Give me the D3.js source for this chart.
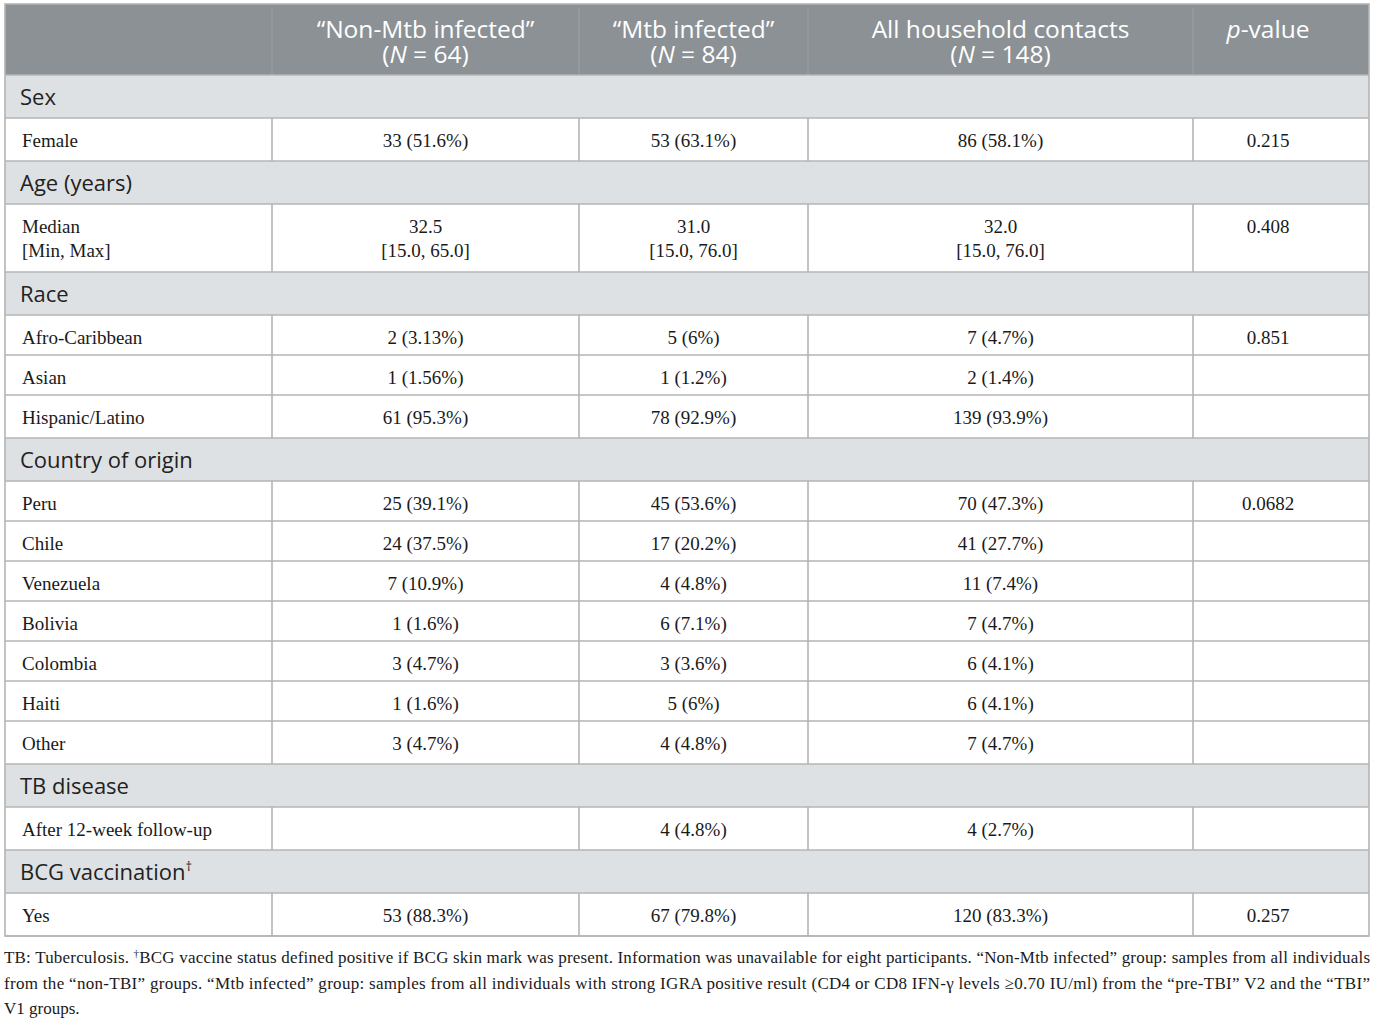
<!DOCTYPE html>
<html>
<head>
<meta charset="utf-8">
<script src="https://cdn.jsdelivr.net/npm/d3@7"></script>
<style>
  body { margin: 0; background: #fff; }
  svg { display: block; }
</style>
</head>
<body>
<div id="table"></div>
<script>
// ---- table content ----
const headerTitles = ["\u201cNon-Mtb infected\u201d", "\u201cMtb infected\u201d", "All household contacts"];
const headerN = [64, 84, 148];

const sectionNames = ["Sex", "Age (years)", "Race", "Country of origin", "TB disease", "BCG vaccination"];

// which section every data row belongs to
const rowSection = [0, 1, 2, 2, 2, 3, 3, 3, 3, 3, 3, 3, 4, 5];
const rowLabels = ["Female", "Median\n[Min, Max]", "Afro-Caribbean", "Asian", "Hispanic/Latino",
  "Peru", "Chile", "Venezuela", "Bolivia", "Colombia", "Haiti", "Other",
  "After 12-week follow-up", "Yes"];

const nonMtbInfected = ["33 (51.6%)", "32.5\n[15.0, 65.0]", "2 (3.13%)", "1 (1.56%)", "61 (95.3%)",
  "25 (39.1%)", "24 (37.5%)", "7 (10.9%)", "1 (1.6%)", "3 (4.7%)", "1 (1.6%)", "3 (4.7%)",
  "", "53 (88.3%)"];
const mtbInfected = ["53 (63.1%)", "31.0\n[15.0, 76.0]", "5 (6%)", "1 (1.2%)", "78 (92.9%)",
  "45 (53.6%)", "17 (20.2%)", "4 (4.8%)", "6 (7.1%)", "3 (3.6%)", "5 (6%)", "4 (4.8%)",
  "4 (4.8%)", "67 (79.8%)"];
const allContacts = ["86 (58.1%)", "32.0\n[15.0, 76.0]", "7 (4.7%)", "2 (1.4%)", "139 (93.9%)",
  "70 (47.3%)", "41 (27.7%)", "11 (7.4%)", "7 (4.7%)", "6 (4.1%)", "6 (4.1%)", "7 (4.7%)",
  "4 (2.7%)", "120 (83.3%)"];
const pValues = ["0.215", "0.408", "0.851", "", "", "0.0682", "", "", "", "", "", "", "", "0.257"];

const footnoteLines = [
  "TB: Tuberculosis. \u2020BCG vaccine status defined positive if BCG skin mark was present. Information was unavailable for eight participants. \u201cNon-Mtb infected\u201d group: samples from all individuals",
  "from the \u201cnon-TBI\u201d groups. \u201cMtb infected\u201d group: samples from all individuals with strong IGRA positive result (CD4 or CD8 IFN-\u03b3 levels \u22650.70 IU/ml) from the \u201cpre-TBI\u201d V2 and the \u201cTBI\u201d",
  "V1 groups."
];

// ---- layout ----
const width = 1375, height = 1023;
const colEdges = [5, 272, 579, 808, 1193, 1369];
// text centre of each column (the p-value column sits a bit left of its middle)
const colTextX = [22, 425.5, 693.5, 1000.5, 1268];
const tableTop = 4;
const headerH = 71, sectionH = 43, rowH = 40, lineH = 24, lastExtra = 3;

const headerBg = "#8b9195", sectionBg = "#dee1e3", borderCol = "#b4b4b4";
const sansFont = "'Open Sans', 'Noto Sans', sans-serif";
const serifFont = "'Liberation Serif', 'DejaVu Serif', serif";

const svg = d3.select("#table").append("svg")
  .attr("width", width).attr("height", height);

// build the list of rows (section bands + data rows) with their y extents
const bands = [];
let y = tableTop + headerH;
sectionNames.forEach((name, s) => {
  bands.push({ type: "section", label: name, y0: y, y1: y + sectionH });
  y += sectionH;
  const idx = d3.range(rowSection.length).filter(i => rowSection[i] === s);
  idx.forEach((i, k) => {
    const lines = Math.max(...[rowLabels[i], nonMtbInfected[i], mtbInfected[i], allContacts[i], pValues[i]]
      .map(t => t.split("\n").length));
    let h = rowH + (lines - 1) * (lineH + 1);
    if (k === idx.length - 1) h += lastExtra;
    bands.push({ type: "row", i, y0: y, y1: y + h });
    y += h;
  });
});
const tableBottom = y;

// header background
svg.append("rect")
  .attr("x", colEdges[0]).attr("y", tableTop)
  .attr("width", colEdges[5] - colEdges[0]).attr("height", headerH)
  .attr("fill", headerBg);

// faint header dividers
svg.append("g").selectAll("line")
  .data(colEdges.slice(1, 5))
  .join("line")
  .attr("x1", d => d).attr("x2", d => d)
  .attr("y1", tableTop + 4).attr("y2", tableTop + headerH)
  .attr("stroke", "#9ca1a4").attr("stroke-width", 1);

// header text
const hdr = svg.append("g")
  .attr("font-family", sansFont).attr("font-size", 24.5)
  .attr("fill", "#ffffff").attr("text-anchor", "middle");

headerTitles.forEach((t, j) => {
  const txt = hdr.append("text").attr("x", colTextX[j + 1]);
  txt.append("tspan").attr("x", colTextX[j + 1]).attr("y", tableTop + 34).text(t);
  const n = txt.append("tspan").attr("x", colTextX[j + 1]).attr("y", tableTop + 59);
  n.text("(");
  txt.append("tspan").attr("font-style", "italic").text("N");
  txt.append("tspan").text(" = " + headerN[j] + ")");
});
const pv = hdr.append("text").attr("x", colTextX[4]).attr("y", tableTop + 34);
pv.append("tspan").attr("font-style", "italic").text("p");
pv.append("tspan").text("-value");

// section bands
const sec = svg.append("g").selectAll("g")
  .data(bands.filter(b => b.type === "section"))
  .join("g");
sec.append("rect")
  .attr("x", colEdges[0]).attr("y", d => d.y0)
  .attr("width", colEdges[5] - colEdges[0]).attr("height", d => d.y1 - d.y0)
  .attr("fill", sectionBg);
const secText = sec.append("text")
  .attr("x", colEdges[0] + 15).attr("y", d => d.y0 + 29.5)
  .attr("font-family", sansFont).attr("font-size", 22).attr("fill", "#222");
secText.append("tspan").text(d => d.label);
secText.filter(d => d.label === "BCG vaccination")
  .append("tspan").attr("font-size", 13).attr("dy", -9).text("\u2020");

// data rows
const columns = [rowLabels, nonMtbInfected, mtbInfected, allContacts, pValues];
const dataRows = bands.filter(b => b.type === "row");
const rowG = svg.append("g")
  .attr("font-family", serifFont).attr("font-size", 19).attr("fill", "#1a1a1a");

dataRows.forEach(b => {
  columns.forEach((col, c) => {
    const lines = col[b.i].split("\n").filter(s => s.length);
    if (!lines.length) return;
    const t = rowG.append("text")
      .attr("x", colTextX[c])
      .attr("text-anchor", c === 0 ? "start" : "middle");
    t.selectAll("tspan").data(lines).join("tspan")
      .attr("x", colTextX[c])
      .attr("y", (d, k) => b.y0 + 29 + k * lineH)
      .text(d => d);
  });
});

// grid lines
const grid = svg.append("g").attr("stroke", borderCol).attr("stroke-width", 1.6);
// horizontal lines between bands
grid.selectAll("line.h")
  .data(bands.map(b => b.y0).concat([tableBottom]))
  .join("line").attr("class", "h")
  .attr("x1", colEdges[0]).attr("x2", colEdges[5])
  .attr("y1", d => d).attr("y2", d => d);
// vertical dividers inside data rows
dataRows.forEach(b => {
  grid.append("g").selectAll("line")
    .data(colEdges.slice(1, 5))
    .join("line")
    .attr("x1", d => d).attr("x2", d => d)
    .attr("y1", b.y0).attr("y2", b.y1);
});
// outer border
svg.append("rect")
  .attr("x", colEdges[0]).attr("y", tableTop)
  .attr("width", colEdges[5] - colEdges[0]).attr("height", tableBottom - tableTop)
  .attr("fill", "none").attr("stroke", borderCol).attr("stroke-width", 1.6);

// footnote
const foot = svg.append("g")
  .attr("font-family", serifFont).attr("font-size", 17).attr("fill", "#1a1a1a");
footnoteLines.forEach((line, k) => {
  const t = foot.append("text")
    .attr("x", 4).attr("y", tableBottom + 27 + k * 25.5);
  if (k < footnoteLines.length - 1) {
    t.attr("textLength", 1366).attr("lengthAdjust", "spacing");
  }
  if (k === 0) {
    const parts = line.split("\u2020");
    t.append("tspan").text(parts[0] + " ");
    t.append("tspan").attr("font-size", 11).attr("dy", -6).text("\u2020");
    t.append("tspan").attr("dy", 6).text(parts[1]);
  } else {
    t.text(line);
  }
});
</script>
</body>
</html>
